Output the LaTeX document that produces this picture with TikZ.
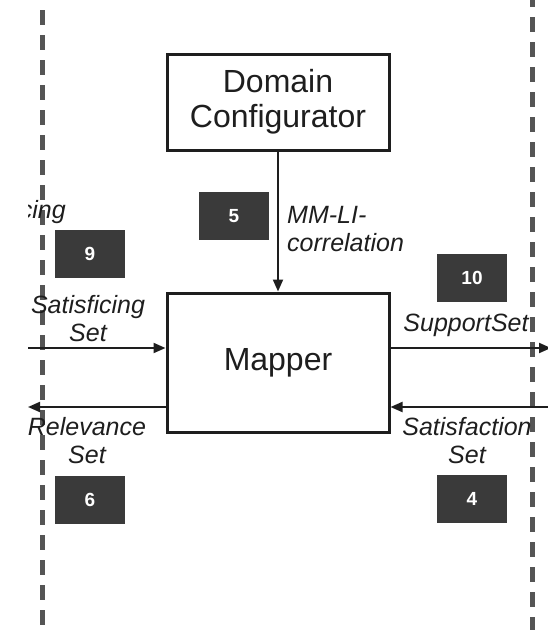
\documentclass[tikz,border=0pt]{standalone}
\usepackage{fontspec}
\setmainfont{Liberation Sans}
\usetikzlibrary{arrows.meta}
\definecolor{numfill}{HTML}{3A3A3A}
\definecolor{dashgray}{HTML}{555555}
\definecolor{inkc}{HTML}{1E1E1E}
\begin{document}
\begin{tikzpicture}[x=1pt,y=-1pt,
  mainbox/.style={draw=inkc, line width=3pt, minimum width=222pt, inner sep=0pt,
    align=center, font=\fontsize{32}{35}\selectfont, text=inkc},
  numbox/.style={fill=numfill, text=white, font=\fontsize{19}{22}\selectfont\bfseries,
    minimum width=70pt, minimum height=48pt, inner sep=0pt},
  lbl/.style={font=\fontsize{25}{28}\selectfont\itshape, align=center, inner sep=0pt, text=inkc},
  conn/.style={line width=2pt, draw=inkc, -{Triangle[length=12pt,width=10pt]}},
  sepline/.style={line width=5pt, draw=dashgray, dash pattern=on 15pt off 10pt}]
\useasboundingbox (0,0) rectangle (548,630);
\fill[white] (0,0) rectangle (548,630);

% swimlane separators
\coordinate (lt) at (42,0);
\coordinate (lb) at (42,630);
\coordinate (rt) at (532,0);
\coordinate (rb) at (532,630);
\draw[sepline, dash phase=15pt] (lt) -- (lb);
\draw[sepline, dash phase=8pt] (rt) -- (rb);

% main boxes
\node[mainbox, minimum height=96pt] (dc) at (278,102) {Domain\\Configurator};
\node[mainbox, minimum height=139pt] (mapper) at (278,362.5) {Mapper};

% number boxes
\node[numbox] (n5) at (234,216) {5};
\node[numbox] (n9) at (90,254) {9};
\node[numbox] (n6) at (90,500) {6};
\node[numbox] (n10) at (472,278) {10};
\node[numbox] (n4) at (472,499) {4};

% labels
\begin{scope}
  \clip (28,185) rectangle (120,235);
  \node[lbl, anchor=east] (cing) at (66,212) {cing};
\end{scope}
\node[lbl, anchor=west, align=left] (mmli) at (287,229) {MM-LI-\\correlation};
\node[lbl] (satisficing) at (88,319) {Satisficing\\Set};
\node[lbl] (relevance) at (87,441) {Relevance\\Set};
\node[lbl] (support) at (466,325) {SupportSet};
\node[lbl] (satisfaction) at (467,441) {Satisfaction\\Set};

% connectors
\coordinate (sfL) at (28,348);
\coordinate (rvL) at (28,407);
\coordinate (spR) at (551,348);
\coordinate (saR) at (548,407);
\draw[conn] (dc) -- (mapper);
\draw[conn] (sfL) -- (sfL -| mapper.west);
\draw[conn] (rvL -| mapper.west) -- (rvL);
\draw[conn] (spR -| mapper.east) -- (spR);
\draw[conn] (saR) -- (saR -| mapper.east);
\end{tikzpicture}
\end{document}
